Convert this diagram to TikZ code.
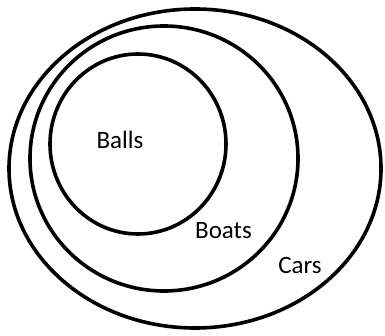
\documentclass[tikz,border=0pt]{standalone}
\usepackage{fontspec}
\setmainfont{Carlito}
\begin{document}
\begin{tikzpicture}[x=1pt,y=-1pt,
  setline/.style={draw=black,line width=3.6pt},
  setlabel/.style={anchor=base,inner sep=0pt,font=\fontsize{25}{30}\selectfont,text=black}]
\useasboundingbox (0,0) rectangle (385,336);
\draw[setline] (195,168.5) ellipse [x radius=186, y radius=159.5];
\draw[setline] (164,158.5) ellipse [x radius=134, y radius=132.5];
\draw[setline] (138,144) ellipse [x radius=88, y radius=90];
\node[setlabel] (balls) at (120,149) {Balls};
\node[setlabel] (boats) at (223.5,239) {Boats};
\node[setlabel] (cars) at (300,273) {Cars};
\end{tikzpicture}
\end{document}
